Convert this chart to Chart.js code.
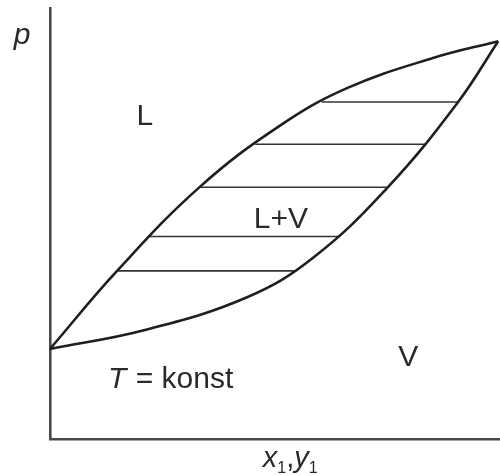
<!DOCTYPE html>
<html><head><meta charset="utf-8">
<script src="https://cdn.jsdelivr.net/npm/chart.js@4"></script>
<style>html,body{margin:0;padding:0;background:#fff}#wrap{width:500px;height:475px;position:relative}</style>
</head><body><div id="wrap"><canvas id="c" width="500" height="475"></canvas></div>
<script>
// Bubble-point (liquid) curve: composition x1 vs pressure p (normalised)
const liquidX = [0, 0.149, 0.333, 0.511, 0.660, 0.851, 0.996];
const liquidP = [0.209, 0.390, 0.585, 0.727, 0.814, 0.884, 0.923];
// Dew-point (vapour) curve: composition y1 vs pressure p
const vaporY = [0, 0.211, 0.438, 0.584, 0.749, 0.907, 0.996];
const vaporP = [0.209, 0.253, 0.329, 0.420, 0.582, 0.782, 0.923];
// Tie lines
const tieP = [0.390, 0.470, 0.584, 0.684, 0.782];
const tieLiquidX = [0.149, 0.222, 0.333, 0.456, 0.604];
const tieVaporY = [0.544, 0.640, 0.749, 0.833, 0.907];
// Region labels (text, x, baseline p)
const regionLabels = ['L', 'L+V', 'V'];
const regionX = [0.211, 0.513, 0.796];
const regionP = [0.729, 0.490, 0.169];
const condLabelItalic = 'T';
const condLabelRest = ' = konst';
const condX = 0.129, condP = 0.118;
const yAxisLabel = 'p';
const xAxisParts = [['x', 'i'], ['1', 's'], [',', 'n'], ['y', 'i'], ['1', 's']];

const FONT = '"Liberation Sans", Arial, sans-serif';
const TEXT = '#2a2a2a';

const curve = (xs, ps) => xs.map((v, i) => ({x: v, y: ps[i]}));

const datasets = [
  {data: curve(liquidX, liquidP), borderColor: '#1f1f1f', borderWidth: 2.6, pointRadius: 0,
   tension: 0.4, clip: false, fill: false},
  {data: curve(vaporY, vaporP), borderColor: '#1f1f1f', borderWidth: 2.6, pointRadius: 0,
   tension: 0.4, clip: false, fill: false},
  ...tieP.map((p, i) => ({
    data: [{x: tieLiquidX[i], y: p}, {x: tieVaporY[i], y: p}],
    borderColor: '#333', borderWidth: 1.6, pointRadius: 0, tension: 0, clip: false, fill: false
  }))
];

const textPlugin = {
  id: 'texts',
  afterDatasetsDraw(chart) {
    const {ctx, chartArea: a, scales: {x, y}} = chart;
    ctx.save();
    ctx.fillStyle = TEXT;
    ctx.textBaseline = 'alphabetic';
    ctx.font = '30px ' + FONT;
    ctx.textAlign = 'center';
    regionLabels.forEach((t, i) => ctx.fillText(t, x.getPixelForValue(regionX[i]), y.getPixelForValue(regionP[i])));
    ctx.textAlign = 'left';
    let cx = x.getPixelForValue(condX);
    const cy = y.getPixelForValue(condP);
    ctx.font = 'italic 30px ' + FONT;
    ctx.fillText(condLabelItalic, cx, cy);
    cx += ctx.measureText(condLabelItalic).width + 1;
    ctx.font = '30px ' + FONT;
    ctx.fillText(condLabelRest, cx, cy);
    ctx.font = 'italic 30px ' + FONT;
    ctx.textAlign = 'center';
    ctx.fillText(yAxisLabel, a.left - 28, a.top + 36);
    ctx.textAlign = 'left';
    let px = x.getPixelForValue(0.473);
    const base = a.bottom + 28;
    xAxisParts.forEach(([t, k]) => {
      if (k === 's') { ctx.font = '16px ' + FONT; ctx.fillText(t, px, base + 6); }
      else if (k === 'i') { ctx.font = 'italic 29px ' + FONT; ctx.fillText(t, px, base); }
      else { ctx.font = '29px ' + FONT; ctx.fillText(t, px, base); }
      px += ctx.measureText(t).width;
    });
    ctx.restore();
  }
};

new Chart(document.getElementById('c'), {
  type: 'line',
  data: {datasets},
  options: {
    responsive: false,
    animation: false,
    events: [],
    layout: {padding: {left: 50, top: 8, right: 0, bottom: 36}},
    plugins: {legend: {display: false}, tooltip: {enabled: false}},
    scales: {
      x: {type: 'linear', min: 0, max: 1,
          ticks: {display: false}, grid: {display: false, drawTicks: false, tickLength: 0},
          border: {display: true, color: '#4a4a4a', width: 2.6}},
      y: {type: 'linear', min: 0, max: 1,
          ticks: {display: false}, grid: {display: false, drawTicks: false, tickLength: 0},
          border: {display: true, color: '#4a4a4a', width: 2.6}}
    }
  },
  plugins: [textPlugin]
});
</script></body></html>
